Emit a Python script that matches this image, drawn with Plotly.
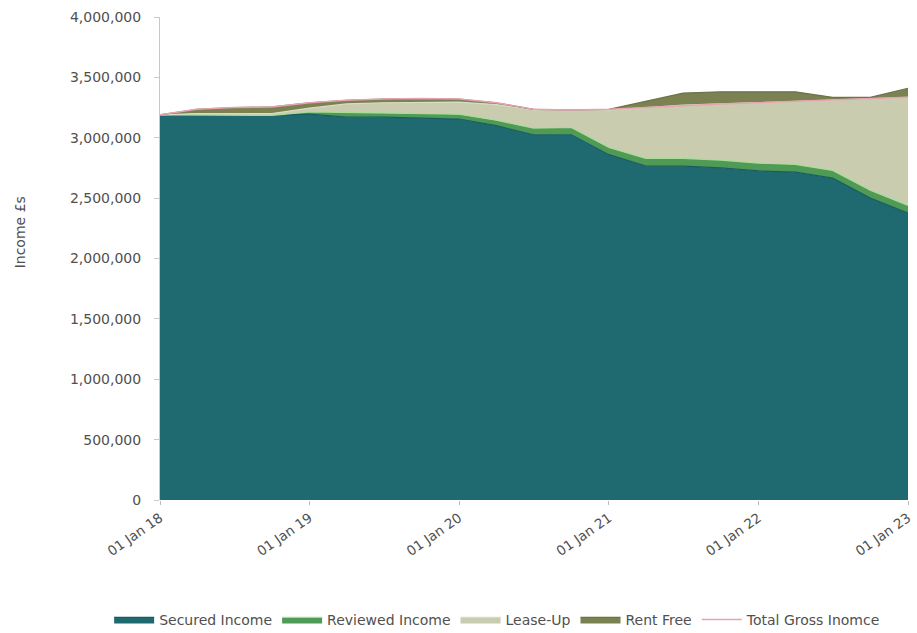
import plotly.graph_objects as go

# Quarterly reporting dates
dates = [
    "2018-01-01", "2018-04-01", "2018-07-01", "2018-10-01",
    "2019-01-01", "2019-04-01", "2019-07-01", "2019-10-01",
    "2020-01-01", "2020-04-01", "2020-07-01", "2020-10-01",
    "2021-01-01", "2021-04-01", "2021-07-01", "2021-10-01",
    "2022-01-01", "2022-04-01", "2022-07-01", "2022-10-01",
    "2023-01-01",
]

secured_income = [
    3190000, 3190000, 3185000, 3185000,
    3195000, 3170000, 3170000, 3165000,
    3155000, 3100000, 3025000, 3025000,
    2860000, 2765000, 2765000, 2750000,
    2725000, 2715000, 2665000, 2500000,
    2375000,
]

reviewed_income = [
    0, 0, 0, 0,
    20000, 40000, 40000, 40000,
    40000, 45000, 55000, 60000,
    60000, 65000, 65000, 65000,
    65000, 65000, 65000, 65000,
    65000,
]

lease_up = [
    0, 10000, 15000, 15000,
    30000, 70000, 80000, 90000,
    100000, 130000, 150000, 145000,
    310000, 420000, 440000, 465000,
    500000, 520000, 580000, 755000,
    895000,
]

rent_free = [
    0, 35000, 50000, 55000,
    45000, 30000, 30000, 30000,
    25000, 15000, 5000, 0,
    5000, 50000, 100000, 100000,
    90000, 80000, 25000, 15000,
    75000,
]

total_gross_income = [
    3190000, 3235000, 3250000, 3255000,
    3290000, 3310000, 3320000, 3325000,
    3320000, 3290000, 3235000, 3230000,
    3235000, 3250000, 3270000, 3280000,
    3290000, 3300000, 3310000, 3320000,
    3335000,
]

tick_dates = ["2018-01-01", "2019-01-01", "2020-01-01",
              "2021-01-01", "2022-01-01", "2023-01-01"]
tick_labels = ["01 Jan 18", "01 Jan 19", "01 Jan 20",
               "01 Jan 21", "01 Jan 22", "01 Jan 23"]
y_ticks = [0, 500000, 1000000, 1500000, 2000000,
           2500000, 3000000, 3500000, 4000000]

FONT = "'DejaVu Sans', sans-serif"
TEXT = "#505050"

fig = go.Figure()

stacked = [
    ("Secured Income", secured_income, "#1e6a70", "#1a5c62"),
    ("Reviewed Income", reviewed_income, "#4f9a55", "#a9dc98"),
    ("Lease-Up", lease_up, "#c9ccaf", "#d9dcc4"),
    ("Rent Free", rent_free, "#7b8150", "#6f7446"),
]
for name, vals, fill, edge in stacked:
    fig.add_trace(go.Scatter(
        x=dates, y=vals, name=name, mode="lines",
        stackgroup="income", fillcolor=fill,
        line=dict(color=edge, width=1.2),
    ))

fig.add_trace(go.Scatter(
    x=dates, y=total_gross_income, name="Total Gross Inomce", mode="lines",
    line=dict(color="#e6a3b3", width=1.5),
))

fig.update_layout(
    width=917, height=633,
    margin=dict(l=160, r=9, t=17, b=133, autoexpand=False),
    paper_bgcolor="white", plot_bgcolor="white",
    font=dict(family=FONT, size=13, color=TEXT),
    showlegend=True,
    legend=dict(
        orientation="h", x=-0.068, xanchor="left", y=-0.248, yanchor="middle",
        font=dict(size=14, color=TEXT), itemwidth=40, traceorder="normal",
    ),
    xaxis=dict(
        type="date", range=["2018-01-01", "2023-01-01"], automargin=False,
        tickvals=tick_dates, ticktext=tick_labels, tickangle=-35,
        showgrid=False, zeroline=False, showline=False,
        ticks="outside", ticklen=4, tickcolor="#bbbbbb",
        tickfont=dict(size=13.5, color=TEXT),
    ),
    yaxis=dict(
        range=[0, 4000000], tickvals=y_ticks, tickformat=",d", automargin=False,
        showgrid=False, zeroline=False,
        showline=True, linecolor="#c8c8c8", linewidth=1,
        ticks="outside", ticklen=5, tickcolor="#c8c8c8",
        ticklabelstandoff=10,
        tickfont=dict(size=14, color=TEXT),
    ),
)

fig.add_annotation(
    text="Income £s", xref="paper", yref="paper",
    x=-0.2, y=0.555, textangle=-90, showarrow=False,
    font=dict(size=14, color=TEXT, family=FONT),
)

fig.write_html("out.html")
